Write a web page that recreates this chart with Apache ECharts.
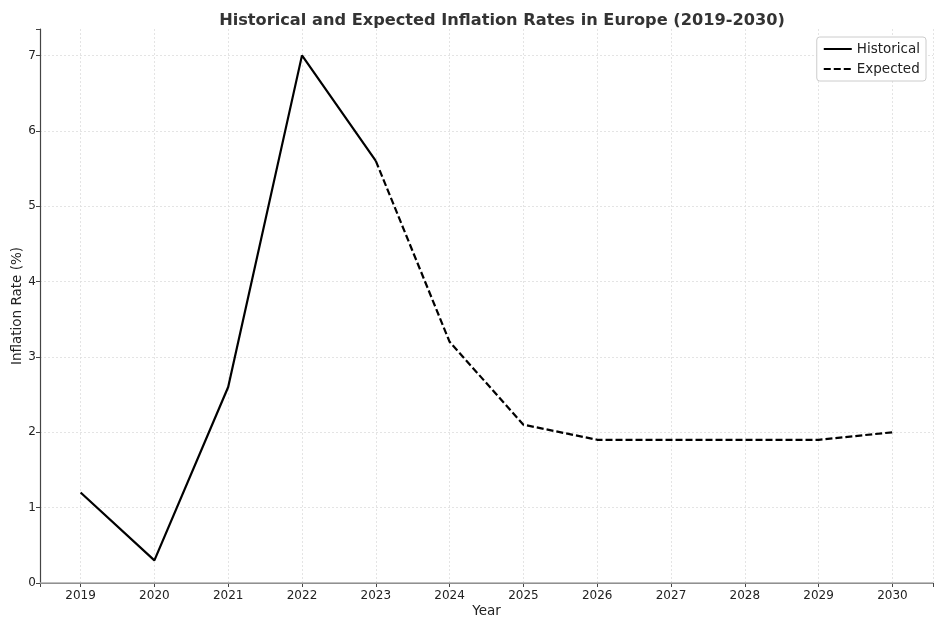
<!DOCTYPE html>
<html><head><meta charset="utf-8">
<script src="https://cdn.jsdelivr.net/npm/echarts@6/dist/echarts.min.js"></script>
<style>html,body{margin:0;padding:0;background:#fff}#c{width:945px;height:630px}</style>
</head><body><div id="c"></div>
<script>
const years = [2019,2020,2021,2022,2023,2024,2025,2026,2027,2028,2029,2030];
const historicalYears = [2019,2020,2021,2022,2023];
const historical = [1.2,0.3,2.6,7.0,5.6];
const expectedYears = [2023,2024,2025,2026,2027,2028,2029,2030];
const expected = [5.6,3.2,2.1,1.9,1.9,1.9,1.9,2.0];
const yTicks = [0,1,2,3,4,5,6,7];

const font = 'DejaVu Sans';
const chart = echarts.init(document.getElementById('c'), null, {renderer:'canvas'});
const isInt = v => Math.abs(v - Math.round(v)) < 1e-6;
chart.setOption({
  animation:false,
  backgroundColor:'#fff',
  title:{text:'Historical and Expected Inflation Rates in Europe (2019-2030)', left:497, top:8, textAlign:'center',
    textStyle:{fontFamily:font, fontSize:16.2, fontWeight:'bold', color:'#333'}},
  legend:{right:19, top:37, orient:'vertical', itemWidth:28, itemHeight:10, itemGap:6,
    padding:[5,6,5,6], borderColor:'#ccc', borderWidth:1, borderRadius:3, backgroundColor:'#fff',
    itemStyle:{opacity:0},
    textStyle:{fontFamily:font, fontSize:13.5, color:'#222'},
    data:['Historical','Expected']},
  grid:{left:40, right:12, top:29, bottom:47, containLabel:false, outerBoundsMode:'none'},
  xAxis:{type:'value', min:2018.45, max:2030.55, minInterval:1, maxInterval:1, offset:3,
    name:'Year', nameLocation:'middle', nameGap:18, nameMoveOverlap:false,
    nameTextStyle:{fontFamily:font, fontSize:13.5, color:'#222'},
    axisLine:{show:true, lineStyle:{color:'#444', width:1.2}},
    axisTick:{show:true, length:4, lineStyle:{color:'#444'}},
    axisLabel:{fontFamily:font, fontSize:12, color:'#222', margin:4,
      formatter:v => isInt(v) && years.includes(Math.round(v)) ? String(Math.round(v)) : ''},
    splitLine:{show:true, lineStyle:{color:'#ddd', type:[2,2], width:0.8}}},
  yAxis:{type:'value', min:0, max:7.35, interval:1,
    name:'Inflation Rate (%)', nameLocation:'middle', nameGap:16, nameMoveOverlap:false,
    nameTextStyle:{fontFamily:font, fontSize:13.5, color:'#222'},
    axisLine:{show:true, lineStyle:{color:'#444', width:1.2}},
    axisTick:{show:true, length:4, lineStyle:{color:'#444'}},
    axisLabel:{fontFamily:font, fontSize:12, color:'#222', margin:4,
      formatter:v => isInt(v) && yTicks.includes(Math.round(v)) ? String(Math.round(v)) : ''},
    splitLine:{show:true, lineStyle:{color:['#ddd','#ddd','#ddd','#ddd','#ddd','#ddd','#ddd','#ddd','rgba(0,0,0,0)'], type:[2,2], width:0.8}}},
  series:[
    {name:'Historical', type:'line', symbol:'none', data:historicalYears.map((y,i)=>[y,historical[i]]),
      lineStyle:{color:'#000', width:2.2}, itemStyle:{color:'#000'},
      markLine:{silent:true, symbol:'none', label:{show:false}, lineStyle:{color:'#aaa', width:1.5, type:'solid'}, data:[{yAxis:0}]}},
    {name:'Expected', type:'line', symbol:'none', data:expectedYears.map((y,i)=>[y,expected[i]]),
      lineStyle:{color:'#000', width:2.2, type:[7,3]}, itemStyle:{color:'#000'}}
  ]
});
</script></body></html>
